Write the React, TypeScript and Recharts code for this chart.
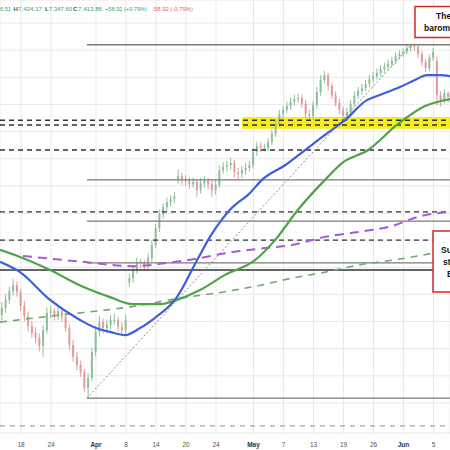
import React from "react";
import {
  ComposedChart,
  Bar,
  Line,
  XAxis,
  YAxis,
  CartesianGrid,
  ReferenceLine,
  ReferenceArea,
} from "recharts";

// x axis: trading-day units, two candles per day
const tickPos = [2.8, 6.8, 12.8, 16.8, 20.8, 24.8, 28.8, 33.8, 37.8, 41.8, 45.8, 49.8, 53.8, 57.8];
const tickLabels = ["18", "24", "Apr", "8", "14", "20", "24", "May", "7", "13", "19", "26", "Jun", "5"];
const priceTicks = [6850, 6900, 6950, 7000, 7050, 7100, 7150, 7200, 7250, 7300, 7350, 7400, 7450, 7500, 7550];

const opens = [
  7012, 7025, 7040, 7056, 7067, 7054, 7029, 7010, 6992, 6979,
  6970, 6955, 6984, 7016, 7019, 7010, 7019, 7010, 6988, 6957,
  6935, 6920, 6907, 6878, 6896, 6944, 6981, 6999, 6988, 6994,
  7003, 7003, 6990, 6984, 7072, 7080, 7095, 7110, 7108, 7102,
  7117, 7141, 7172, 7198, 7211, 7220, 7226, 7262, 7268, 7261,
  7259, 7253, 7257, 7242, 7255, 7259, 7253, 7242, 7252, 7279,
  7285, 7288, 7292, 7275, 7272, 7279, 7283, 7288, 7312, 7323,
  7320, 7320, 7331, 7346, 7364, 7382, 7390, 7397, 7405, 7410,
  7412, 7401, 7382, 7379, 7399, 7423, 7445, 7454, 7434, 7417,
  7403, 7390, 7379, 7386, 7401, 7416, 7425, 7430, 7438, 7447,
  7452, 7458, 7465, 7469, 7475, 7480, 7489, 7493, 7497, 7504,
  7508, 7506, 7493, 7478, 7467, 7486, 7480, 7417, 7408, 7421,
];
const closes = [
  7025, 7040, 7056, 7067, 7054, 7029, 7010, 6992, 6979, 6970,
  6955, 6984, 7016, 7019, 7010, 7019, 7010, 6988, 6957, 6935,
  6920, 6907, 6878, 6896, 6944, 6981, 6999, 6988, 6994, 7003,
  7003, 6990, 6984, 7003, 7080, 7095, 7110, 7108, 7102, 7117,
  7141, 7172, 7198, 7211, 7220, 7226, 7231, 7268, 7261, 7259,
  7253, 7257, 7242, 7255, 7259, 7253, 7242, 7252, 7279, 7285,
  7288, 7292, 7275, 7272, 7279, 7283, 7288, 7312, 7323, 7320,
  7320, 7331, 7346, 7364, 7382, 7390, 7397, 7405, 7410, 7412,
  7401, 7382, 7379, 7399, 7423, 7445, 7454, 7434, 7417, 7403,
  7390, 7379, 7386, 7401, 7416, 7425, 7430, 7438, 7447, 7452,
  7458, 7465, 7469, 7475, 7480, 7489, 7493, 7497, 7504, 7508,
  7506, 7493, 7478, 7467, 7486, 7497, 7417, 7408, 7421, 7414,
];
const highs = [
  7036, 7050, 7064, 7078, 7074, 7060, 7038, 7018, 7001, 6990,
  6978, 6993, 7026, 7028, 7024, 7027, 7024, 7016, 6995, 6966,
  6944, 6928, 6913, 6905, 6952, 6992, 7010, 7006, 7004, 7012,
  7014, 7008, 6998, 7012, 7088, 7104, 7118, 7116, 7114, 7125,
  7150, 7180, 7206, 7218, 7228, 7233, 7238, 7280, 7274, 7270,
  7266, 7265, 7262, 7264, 7268, 7264, 7260, 7261, 7288, 7294,
  7296, 7302, 7298, 7283, 7287, 7292, 7296, 7320, 7331, 7330,
  7328, 7338, 7354, 7372, 7390, 7398, 7405, 7413, 7418, 7420,
  7418, 7408, 7390, 7407, 7432, 7454, 7462, 7458, 7440, 7424,
  7410, 7396, 7394, 7409, 7424, 7432, 7438, 7445, 7455, 7460,
  7466, 7472, 7477, 7483, 7488, 7496, 7500, 7504, 7510, 7512,
  7512, 7510, 7498, 7484, 7492, 7504, 7488, 7424, 7428, 7424,
];
const lows = [
  7002, 7016, 7032, 7048, 7046, 7020, 7000, 6982, 6970, 6960,
  6945, 6935, 6978, 7006, 7002, 7003, 7000, 6980, 6948, 6926,
  6910, 6898, 6870, 6859, 6890, 6936, 6972, 6978, 6980, 6986,
  6994, 6982, 6976, 6978, 7064, 7072, 7088, 7098, 7094, 7096,
  7110, 7135, 7165, 7190, 7203, 7212, 7218, 7254, 7252, 7250,
  7245, 7246, 7230, 7236, 7247, 7244, 7230, 7234, 7246, 7272,
  7277, 7280, 7266, 7262, 7265, 7270, 7276, 7282, 7305, 7312,
  7313, 7314, 7325, 7340, 7358, 7375, 7384, 7390, 7398, 7403,
  7394, 7375, 7370, 7372, 7392, 7416, 7438, 7426, 7410, 7396,
  7382, 7370, 7372, 7380, 7395, 7410, 7418, 7424, 7432, 7440,
  7446, 7452, 7458, 7463, 7468, 7474, 7483, 7487, 7492, 7498,
  7499, 7486, 7470, 7460, 7462, 7480, 7398, 7396, 7402, 7404,
];

// moving averages (x in trading-day units)
const ma100X = [0, 2.67, 6.67, 10.67, 12.8, 14.67, 16.67, 18.67, 20.67, 22.67, 23.33, 26.27, 28, 30.67, 33.33, 34.93, 38, 40.67, 43.33, 46, 48.93, 50, 53.33, 55.33, 56.93, 58.67, 60];
const ma100 = [7110, 7091, 7040, 7003, 6988, 6981, 6975, 6988, 7007, 7030, 7040, 7113, 7156, 7206, 7237, 7261, 7288, 7316, 7344, 7371, 7408, 7414, 7432, 7445, 7454, 7454, 7452];
const ma200X = [0, 2.67, 6.67, 11.07, 14.67, 17.73, 21.33, 23.6, 26.67, 30, 34, 36.67, 39.73, 43.33, 45.6, 49.07, 53.07, 56.67, 60];
const ma200 = [7132, 7119, 7095, 7064, 7045, 7032, 7032, 7040, 7058, 7086, 7113, 7150, 7206, 7261, 7292, 7316, 7364, 7397, 7410];
const purpleX = [3.07, 11.07, 17.73, 22.27, 26.67, 30, 34.4, 38.93, 43.33, 47.73, 52.27, 55.73, 60];
const purple = [7121, 7110, 7102, 7108, 7117, 7126, 7134, 7141, 7156, 7165, 7176, 7193, 7202];
const greenDashX = [0, 8, 17.33, 24, 30, 34.4, 38.93, 43.33, 47.73, 52.27, 57.73, 60];
const greenDash = [6999, 7012, 7027, 7043, 7055, 7066, 7080, 7091, 7104, 7113, 7126, 7132];

// horizontal levels
const dashedLevels = [7371, 7362, 7316, 7202, 7150];
const solidLevels = [7510, 7261, 7185, 7108, 6859];
const lowX = 11.6;

const candles = closes.map((c, i) => ({
  x: i * 0.5 + 0.25,
  range: [lows[i], highs[i]],
  open: opens[i],
  close: c,
}));
const toPts = (xs: number[], vs: number[]) => xs.map((x, i) => ({ x, v: vs[i] }));

const Candle = (props: any) => {
  const { x, width, payload } = props;
  let { y, height } = props;
  if (height < 0) {
    y = y + height;
    height = -height;
  }
  const [lo, hi] = payload.range;
  const up = payload.close >= payload.open;
  const color = up ? "#8fbf98" : "#e39a9a";
  const r = height / (hi - lo || 1);
  const top = y + (hi - Math.max(payload.open, payload.close)) * r;
  const bh = Math.max(1, Math.abs(payload.close - payload.open) * r);
  const cx = x + width / 2;
  return (
    <g>
      <line x1={cx} x2={cx} y1={y} y2={y + height} stroke={color} strokeWidth={1} />
      <rect x={cx - 1} y={top} width={2} height={bh} fill={color} />
    </g>
  );
};

const DateTick = (props: any) => {
  const { x, y, index } = props;
  const label = tickLabels[index];
  const bold = isNaN(Number(label));
  return (
    <text
      x={x}
      y={y + 6}
      textAnchor="middle"
      fontSize={6.5}
      fontFamily="Liberation Sans, Arial, sans-serif"
      fontWeight={bold ? 700 : 400}
      fill={bold ? "#333" : "#555"}
    >
      {label}
    </text>
  );
};

const font = "Liberation Sans, Arial, sans-serif";
const green = "#3aa36b";

export default function App() {
  return (
    <div style={{ position: "fixed", left: 0, top: 0, width: 450, height: 450, background: "#fff", overflow: "hidden" }}>
      <ComposedChart
        width={450}
        height={450}
        data={candles}
        margin={{ top: 0, right: 0, bottom: 0, left: 0 }}
      >
        <CartesianGrid stroke="#e9e9e9" strokeWidth={1} />
        <XAxis
          dataKey="x"
          type="number"
          domain={[0, 60]}
          allowDataOverflow
          ticks={tickPos}
          tick={<DateTick />}
          axisLine={false}
          tickLine={false}
          height={17}
          interval={0}
        />
        <YAxis hide type="number" domain={[6794.7, 7592.4]} allowDataOverflow ticks={priceTicks} />
        <ReferenceArea x1={32.27} x2={60} y1={7355} y2={7377} fill="#f6ee1c" fillOpacity={1} stroke="none" />
        {dashedLevels.map((v) => (
          <ReferenceLine key={"d" + v} y={v} stroke="#333" strokeWidth={1.4} strokeDasharray="5 4" />
        ))}
        {solidLevels.map((v) => (
          <ReferenceLine
            key={"s" + v}
            segment={[{ x: lowX, y: v }, { x: 60, y: v }]}
            stroke="#7a7a7a"
            strokeWidth={1.3}
          />
        ))}
        <ReferenceLine y={7095} stroke="#333" strokeWidth={1.3} />
        <ReferenceLine y={6808} stroke="#98ad98" strokeWidth={1.2} strokeDasharray="5 5" />
        <ReferenceLine
          segment={[{ x: lowX, y: 6859 }, { x: 54.93, y: 7511 }]}
          stroke="#8a8a8a"
          strokeWidth={1}
          strokeDasharray="2 2"
        />
        <Bar dataKey="range" barSize={3} shape={<Candle />} isAnimationActive={false} />
        <Line data={toPts(greenDashX, greenDash)} dataKey="v" type="monotone" stroke="#6fa86f" strokeWidth={1.6} strokeDasharray="7 6" dot={false} isAnimationActive={false} />
        <Line data={toPts(purpleX, purple)} dataKey="v" type="monotone" stroke="#a859d6" strokeWidth={2} strokeDasharray="9 6" dot={false} isAnimationActive={false} />
        <Line data={toPts(ma200X, ma200)} dataKey="v" type="monotone" stroke="#4fa448" strokeWidth={2.2} dot={false} isAnimationActive={false} />
        <Line data={toPts(ma100X, ma100)} dataKey="v" type="monotone" stroke="#3d5fd8" strokeWidth={2.2} dot={false} isAnimationActive={false} />
      </ComposedChart>
      <svg width={450} height={450} style={{ position: "absolute", left: 0, top: 0, pointerEvents: "none" }}>
        <g fontFamily={font} fontSize={6}>
          <text x={0} y={10.5} fill={green} textLength={11} lengthAdjust="spacingAndGlyphs">6.51</text>
          <text x={13.5} y={10.5} fill="#555" fontWeight={700}>H</text>
          <text x={18} y={10.5} fill={green} textLength={24} lengthAdjust="spacingAndGlyphs">7,424.17</text>
          <text x={45} y={10.5} fill="#555" fontWeight={700}>L</text>
          <text x={49} y={10.5} fill={green} textLength={23} lengthAdjust="spacingAndGlyphs">7,347.60</text>
          <text x={73} y={10.5} fill="#555" fontWeight={700}>C</text>
          <text x={78} y={10.5} fill={green} textLength={24} lengthAdjust="spacingAndGlyphs">7,413.86</text>
          <text x={105} y={10.5} fill={green} textLength={42} lengthAdjust="spacingAndGlyphs">+58.92 (+0.79%)</text>
          <text x={152} y={10.5} fill="#e06666" textLength={41} lengthAdjust="spacingAndGlyphs">-58.92 (-0.79%)</text>
        </g>
        <rect x={415} y={6.5} width={60} height={31} fill="#fff" stroke="#d42a2a" strokeWidth={1.5} />
        <g fontFamily={font} fontSize={8.5} fontWeight={700} fill="#111">
          <text x={436} y={19}>The 100-hour MA</text>
          <text x={424} y={31}>barometer</text>
        </g>
        <rect x={433} y={231} width={40} height={61} fill="#fff" stroke="#d42a2a" strokeWidth={1.5} />
        <g fontFamily={font} fontSize={8.5} fontWeight={700} fill="#111">
          <text x={441} y={253}>Support</text>
          <text x={443} y={265}>stays</text>
          <text x={447} y={277}>EMA</text>
        </g>
      </svg>
    </div>
  );
}
